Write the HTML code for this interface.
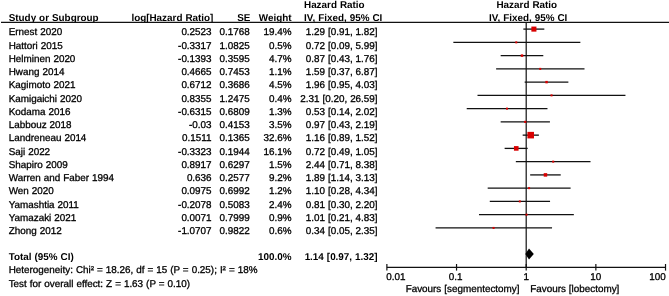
<!DOCTYPE html><html><head><meta charset="utf-8"><style>html,body{margin:0;padding:0;background:#fff;width:669px;height:296px;overflow:hidden}svg{display:block;will-change:transform;filter:blur(0.3px)}text{text-rendering:geometricPrecision;font-family:"Liberation Sans",sans-serif;font-size:9.9px;fill:#000;stroke:#000;stroke-width:0.3px;word-spacing:0.25px}.b{font-weight:bold;stroke-width:0}.e{text-anchor:end}.m{text-anchor:middle}</style></head><body>
<svg width="669" height="296" viewBox="0 0 669 296">
<text class="b" x="304.0" y="7.5">Hazard Ratio</text>
<text class="b m" x="526.8" y="7.5">Hazard Ratio</text>
<text class="b" x="8.7" y="20.6">Study or Subgroup</text>
<text class="b e" x="213.4" y="20.6">log[Hazard Ratio]</text>
<text class="b e" x="250.4" y="20.6">SE</text>
<text class="b e" x="291.6" y="20.6">Weight</text>
<text class="b" x="304.0" y="20.6">IV, Fixed, 95% CI</text>
<text class="b m" x="528.2" y="20.6">IV, Fixed, 95% CI</text>
<line x1="1" x2="669" y1="22.4" y2="22.4" stroke="#111" stroke-width="1.15"/>
<line x1="526.2" x2="526.2" y1="22.4" y2="267.3" stroke="#111" stroke-width="1.2"/>
<text x="8.7" y="35.4">Ernest 2020</text>
<text class="e" x="211.6" y="35.4">0.2523</text>
<text class="e" x="249.8" y="35.4">0.1768</text>
<text class="e" x="291.5" y="35.4">19.4%</text>
<text class="e" x="377.6" y="35.4">1.29 [0.91, 1.82]</text>
<line x1="523.35" x2="544.32" y1="29.1" y2="29.1" stroke="#111" stroke-width="1.3"/>
<rect x="531.37" y="26.57" width="5.07" height="5.07" fill="#d80000"/>
<text x="8.7" y="48.66">Hattori 2015</text>
<text class="e" x="211.6" y="48.66">-0.3317</text>
<text class="e" x="249.8" y="48.66">1.0825</text>
<text class="e" x="291.5" y="48.66">0.5%</text>
<text class="e" x="377.6" y="48.66">0.72 [0.09, 5.99]</text>
<line x1="453.35" x2="580.36" y1="42.36" y2="42.36" stroke="#111" stroke-width="1.3"/>
<rect x="515.26" y="41.36" width="2" height="2" fill="#d80000"/>
<text x="8.7" y="61.91">Helminen 2020</text>
<text class="e" x="211.6" y="61.91">-0.1393</text>
<text class="e" x="249.8" y="61.91">0.3595</text>
<text class="e" x="291.5" y="61.91">4.7%</text>
<text class="e" x="377.6" y="61.91">0.87 [0.43, 1.76]</text>
<line x1="500.67" x2="543.3" y1="55.61" y2="55.61" stroke="#111" stroke-width="1.3"/>
<rect x="520.74" y="54.36" width="2.49" height="2.49" fill="#d80000"/>
<text x="8.7" y="75.16">Hwang 2014</text>
<text class="e" x="211.6" y="75.16">0.4665</text>
<text class="e" x="249.8" y="75.16">0.7453</text>
<text class="e" x="291.5" y="75.16">1.1%</text>
<text class="e" x="377.6" y="75.16">1.59 [0.37, 6.87]</text>
<line x1="496.12" x2="584.5" y1="68.87" y2="68.87" stroke="#111" stroke-width="1.3"/>
<rect x="539.23" y="67.87" width="2" height="2" fill="#d80000"/>
<text x="8.7" y="88.42">Kagimoto 2021</text>
<text class="e" x="211.6" y="88.42">0.6712</text>
<text class="e" x="249.8" y="88.42">0.3686</text>
<text class="e" x="291.5" y="88.42">4.5%</text>
<text class="e" x="377.6" y="88.42">1.96 [0.95, 4.03]</text>
<line x1="524.65" x2="568.37" y1="82.12" y2="82.12" stroke="#111" stroke-width="1.3"/>
<rect x="545.34" y="80.9" width="2.44" height="2.44" fill="#d80000"/>
<text x="8.7" y="101.68">Kamigaichi 2020</text>
<text class="e" x="211.6" y="101.68">0.8355</text>
<text class="e" x="249.8" y="101.68">1.2475</text>
<text class="e" x="291.5" y="101.68">0.4%</text>
<text class="e" x="377.6" y="101.68">2.31 [0.20, 26.59]</text>
<line x1="477.51" x2="625.45" y1="95.38" y2="95.38" stroke="#111" stroke-width="1.3"/>
<rect x="550.53" y="94.38" width="2" height="2" fill="#d80000"/>
<text x="8.7" y="114.93">Kodama 2016</text>
<text class="e" x="211.6" y="114.93">-0.6315</text>
<text class="e" x="249.8" y="114.93">0.6809</text>
<text class="e" x="291.5" y="114.93">1.3%</text>
<text class="e" x="377.6" y="114.93">0.53 [0.14, 2.02]</text>
<line x1="466.72" x2="547.47" y1="108.63" y2="108.63" stroke="#111" stroke-width="1.3"/>
<rect x="505.99" y="107.63" width="2" height="2" fill="#d80000"/>
<text x="8.7" y="128.19">Labbouz 2018</text>
<text class="e" x="211.6" y="128.19">-0.03</text>
<text class="e" x="249.8" y="128.19">0.4153</text>
<text class="e" x="291.5" y="128.19">3.5%</text>
<text class="e" x="377.6" y="128.19">0.97 [0.43, 2.19]</text>
<line x1="500.67" x2="549.92" y1="121.89" y2="121.89" stroke="#111" stroke-width="1.3"/>
<rect x="524.2" y="120.81" width="2.15" height="2.15" fill="#d80000"/>
<text x="8.7" y="141.44">Landreneau 2014</text>
<text class="e" x="211.6" y="141.44">0.1511</text>
<text class="e" x="249.8" y="141.44">0.1365</text>
<text class="e" x="291.5" y="141.44">32.6%</text>
<text class="e" x="377.6" y="141.44">1.16 [0.89, 1.52]</text>
<line x1="522.67" x2="538.87" y1="135.14" y2="135.14" stroke="#111" stroke-width="1.3"/>
<rect x="527.41" y="131.86" width="6.57" height="6.57" fill="#d80000"/>
<text x="8.7" y="154.69">Saji 2022</text>
<text class="e" x="211.6" y="154.69">-0.3323</text>
<text class="e" x="249.8" y="154.69">0.1944</text>
<text class="e" x="291.5" y="154.69">16.1%</text>
<text class="e" x="377.6" y="154.69">0.72 [0.49, 1.05]</text>
<line x1="504.62" x2="527.68" y1="148.4" y2="148.4" stroke="#111" stroke-width="1.3"/>
<rect x="513.95" y="146.09" width="4.61" height="4.61" fill="#d80000"/>
<text x="8.7" y="167.95">Shapiro 2009</text>
<text class="e" x="211.6" y="167.95">0.8917</text>
<text class="e" x="249.8" y="167.95">0.6297</text>
<text class="e" x="291.5" y="167.95">1.5%</text>
<text class="e" x="377.6" y="167.95">2.44 [0.71, 8.38]</text>
<line x1="515.84" x2="590.51" y1="161.65" y2="161.65" stroke="#111" stroke-width="1.3"/>
<rect x="552.19" y="160.65" width="2" height="2" fill="#d80000"/>
<text x="8.7" y="181.21">Warren and Faber 1994</text>
<text class="e" x="211.6" y="181.21">0.636</text>
<text class="e" x="249.8" y="181.21">0.2577</text>
<text class="e" x="291.5" y="181.21">9.2%</text>
<text class="e" x="377.6" y="181.21">1.89 [1.14, 3.13]</text>
<line x1="530.16" x2="560.72" y1="174.91" y2="174.91" stroke="#111" stroke-width="1.3"/>
<rect x="543.71" y="173.16" width="3.49" height="3.49" fill="#d80000"/>
<text x="8.7" y="194.46">Wen 2020</text>
<text class="e" x="211.6" y="194.46">0.0975</text>
<text class="e" x="249.8" y="194.46">0.6992</text>
<text class="e" x="291.5" y="194.46">1.2%</text>
<text class="e" x="377.6" y="194.46">1.10 [0.28, 4.34]</text>
<line x1="487.69" x2="570.61" y1="188.16" y2="188.16" stroke="#111" stroke-width="1.3"/>
<rect x="528.08" y="187.16" width="2" height="2" fill="#d80000"/>
<text x="8.7" y="207.72">Yamashtia 2011</text>
<text class="e" x="211.6" y="207.72">-0.2078</text>
<text class="e" x="249.8" y="207.72">0.5083</text>
<text class="e" x="291.5" y="207.72">2.4%</text>
<text class="e" x="377.6" y="207.72">0.81 [0.30, 2.20]</text>
<line x1="489.78" x2="550.05" y1="201.41" y2="201.41" stroke="#111" stroke-width="1.3"/>
<rect x="518.83" y="200.41" width="2" height="2" fill="#d80000"/>
<text x="8.7" y="220.97">Yamazaki 2021</text>
<text class="e" x="211.6" y="220.97">0.0071</text>
<text class="e" x="249.8" y="220.97">0.7999</text>
<text class="e" x="291.5" y="220.97">0.9%</text>
<text class="e" x="377.6" y="220.97">1.01 [0.21, 4.83]</text>
<line x1="478.99" x2="573.84" y1="214.67" y2="214.67" stroke="#111" stroke-width="1.3"/>
<rect x="525.5" y="213.67" width="2" height="2" fill="#d80000"/>
<text x="8.7" y="234.23">Zhong 2012</text>
<text class="e" x="211.6" y="234.23">-1.0707</text>
<text class="e" x="249.8" y="234.23">0.9822</text>
<text class="e" x="291.5" y="234.23">0.6%</text>
<text class="e" x="377.6" y="234.23">0.34 [0.05, 2.35]</text>
<line x1="435.57" x2="552.05" y1="227.93" y2="227.93" stroke="#111" stroke-width="1.3"/>
<rect x="492.56" y="226.93" width="2" height="2" fill="#d80000"/>
<text class="b" x="8.7" y="259.6">Total (95% CI)</text>
<text class="b e" x="291.5" y="259.6">100.0%</text>
<text class="b e" x="377.6" y="259.6">1.14 [0.97, 1.32]</text>
<polygon points="525.3,254 529.0,248.6 533.8,254 529.0,259.4" fill="#000"/>
<text x="8.7" y="273.3">Heterogeneity: Chi² = 18.26, df = 15 (P = 0.25); I² = 18%</text>
<text x="8.7" y="286.7">Test for overall effect: Z = 1.63 (P = 0.10)</text>
<line x1="386.88" x2="665.52" y1="267.3" y2="267.3" stroke="#111" stroke-width="1.2"/>
<line x1="386.88" x2="386.88" y1="264.0" y2="270.6" stroke="#111" stroke-width="1.2"/>
<line x1="456.54" x2="456.54" y1="264.0" y2="270.6" stroke="#111" stroke-width="1.2"/>
<line x1="526.2" x2="526.2" y1="264.0" y2="270.6" stroke="#111" stroke-width="1.2"/>
<line x1="595.86" x2="595.86" y1="264.0" y2="270.6" stroke="#111" stroke-width="1.2"/>
<line x1="665.52" x2="665.52" y1="264.0" y2="270.6" stroke="#111" stroke-width="1.2"/>
<text x="386.28" y="280.3">0.01</text>
<text class="m" x="455.74" y="280.3">0.1</text>
<text class="m" x="526.2" y="280.3">1</text>
<text class="m" x="595.86" y="280.3">10</text>
<text class="e" x="665.82" y="280.3">100</text>
<text class="e" x="519.5" y="292.0">Favours [segmentectomy]</text>
<text x="530.2" y="292.0">Favours [lobectomy]</text>
</svg></body></html>
